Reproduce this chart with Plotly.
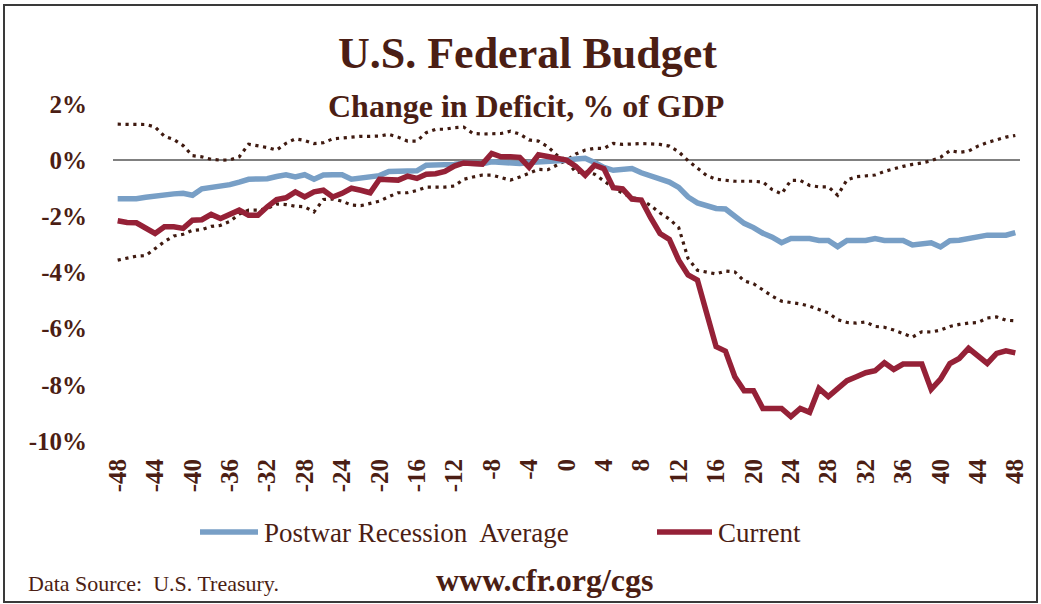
import plotly.graph_objects as go

months = list(range(-48, 49))
tick_vals = list(range(-48, 49, 4))
tick_text = [str(v) for v in tick_vals]
y_tick_vals = [2, 0, -2, -4, -6, -8, -10]
y_tick_text = ["2%", "0%", "-2%", "-4%", "-6%", "-8%", "-10%"]
legend_names = ["Postwar Recession\u00a0 Average", "Current"]

postwar_avg = [
    -1.37, -1.37, -1.37, -1.32, -1.27, -1.22, -1.20, -1.18, -1.25, -1.02,
    -0.97, -0.93, -0.87, -0.78, -0.68, -0.67, -0.66, -0.58, -0.52, -0.60,
    -0.52, -0.68, -0.53, -0.52, -0.52, -0.68, -0.62, -0.57, -0.55, -0.40,
    -0.38, -0.38, -0.38, -0.18, -0.17, -0.17, -0.15, -0.10, -0.11, -0.13,
    -0.06, -0.07, -0.08, -0.12, -0.08, -0.07, -0.06, -0.04, 0.00, 0.04,
    0.07, -0.08, -0.26, -0.36, -0.34, -0.30, -0.45, -0.55, -0.68, -0.78,
    -0.97, -1.31, -1.52, -1.62, -1.72, -1.74, -2.00, -2.25, -2.40, -2.60,
    -2.74, -2.94, -2.79, -2.79, -2.79, -2.86, -2.86, -3.08, -2.86, -2.86,
    -2.86, -2.79, -2.86, -2.86, -2.86, -3.02, -2.96, -2.94, -3.09, -2.87,
    -2.85, -2.80, -2.73, -2.67, -2.67, -2.67, -2.58,
]

current = [
    -2.16, -2.22, -2.23, -2.43, -2.61, -2.37, -2.37, -2.43, -2.14, -2.12,
    -1.93, -2.08, -1.93, -1.78, -1.96, -1.96, -1.66, -1.40, -1.34, -1.13,
    -1.31, -1.13, -1.07, -1.31, -1.18, -1.00, -1.07, -1.16, -0.68, -0.71,
    -0.71, -0.57, -0.65, -0.50, -0.48, -0.40, -0.21, -0.10, -0.10, -0.14,
    0.24, 0.12, 0.12, 0.10, -0.25, 0.19, 0.13, 0.05, 0.00, -0.22,
    -0.54, -0.18, -0.30, -0.98, -1.02, -1.39, -1.42, -2.05, -2.61, -2.82,
    -3.56, -4.09, -4.27, -5.46, -6.64, -6.80, -7.71, -8.21, -8.21, -8.84,
    -8.84, -8.84, -9.13, -8.84, -8.98, -8.13, -8.42, -8.13, -7.85, -7.71,
    -7.57, -7.50, -7.21, -7.45, -7.26, -7.26, -7.26, -8.16, -7.80, -7.24,
    -7.06, -6.70, -6.98, -7.24, -6.88, -6.79, -6.86,
]

upper_band = [
    1.28, 1.28, 1.28, 1.27, 1.18, 0.85, 0.74, 0.52, 0.16, 0.12,
    0.03, 0.00, 0.01, 0.12, 0.57, 0.51, 0.45, 0.36, 0.60, 0.76,
    0.70, 0.59, 0.62, 0.76, 0.79, 0.80, 0.85, 0.85, 0.86, 0.92,
    0.82, 0.68, 0.68, 0.98, 1.10, 1.10, 1.16, 1.18, 0.95, 0.93,
    0.93, 0.95, 1.03, 0.93, 0.72, 0.68, 0.48, 0.17, 0.00, 0.22,
    0.36, 0.42, 0.42, 0.60, 0.56, 0.58, 0.59, 0.58, 0.56, 0.50,
    0.30, -0.02, -0.28, -0.55, -0.68, -0.72, -0.75, -0.75, -0.75, -0.78,
    -1.05, -1.20, -0.72, -0.72, -0.90, -0.95, -0.95, -1.25, -0.70, -0.59,
    -0.55, -0.53, -0.40, -0.30, -0.22, -0.15, -0.10, -0.02, 0.10, 0.34,
    0.28, 0.32, 0.50, 0.63, 0.72, 0.82, 0.88,
]

lower_band = [
    -3.56, -3.50, -3.42, -3.40, -3.15, -2.90, -2.70, -2.64, -2.50, -2.47,
    -2.36, -2.32, -2.18, -1.92, -1.78, -1.78, -1.72, -1.56, -1.58, -1.64,
    -1.66, -1.84, -1.40, -1.38, -1.46, -1.60, -1.62, -1.55, -1.46, -1.30,
    -1.16, -1.16, -1.08, -0.96, -0.95, -0.96, -0.92, -0.68, -0.60, -0.53,
    -0.53, -0.62, -0.71, -0.60, -0.45, -0.33, -0.34, -0.18, 0.00, -0.44,
    -0.40, -0.50, -0.75, -0.98, -1.18, -1.33, -1.40, -1.62, -1.88, -2.10,
    -2.40, -3.50, -3.92, -3.98, -4.05, -3.95, -3.98, -4.30, -4.40, -4.62,
    -4.84, -5.02, -5.06, -5.12, -5.20, -5.32, -5.44, -5.68, -5.78, -5.80,
    -5.76, -5.92, -5.95, -6.05, -6.17, -6.30, -6.11, -6.12, -6.05, -5.92,
    -5.85, -5.80, -5.78, -5.62, -5.58, -5.70, -5.72,
]

TEXT = "#4b1e14"
BLUE = "#789fc6"
RED = "#952137"
DOT = "#3f1a10"
SERIF = "Liberation Serif"

W, H = 1041, 604
ML, MR, MT, MB = 113, 21, 104, 163
PW, PH = W - ML - MR, H - MT - MB


def px(x):
    return (x - ML) / PW


def py(y):
    return (H - MB - y) / PH


fig = go.Figure()
fig.add_trace(go.Scatter(x=months, y=upper_band, mode="lines", showlegend=False,
                         line=dict(color=DOT, width=3.2, dash="3.2px,4.6px"), hoverinfo="skip"))
fig.add_trace(go.Scatter(x=months, y=lower_band, mode="lines", showlegend=False,
                         line=dict(color=DOT, width=3.2, dash="3.2px,4.6px"), hoverinfo="skip"))
fig.add_trace(go.Scatter(x=months, y=postwar_avg, mode="lines", name=legend_names[0],
                         showlegend=False, line=dict(color=BLUE, width=5.5)))
fig.add_trace(go.Scatter(x=months, y=current, mode="lines", name=legend_names[1],
                         showlegend=False, line=dict(color=RED, width=5.5)))

fig.update_layout(
    width=W, height=H,
    margin=dict(l=ML, r=MR, t=MT, b=MB),
    paper_bgcolor="white", plot_bgcolor="white",
    font=dict(family=SERIF, color=TEXT),
    showlegend=False,
    xaxis=dict(range=[-48.5, 48.5], tickmode="array", tickvals=tick_vals, ticktext=tick_text,
               tickangle=-90, showgrid=False, zeroline=False, showline=False, ticks="",
               tickfont=dict(family=SERIF, size=25, color=TEXT, weight="bold"),
               ticklabelstandoff=12),
    yaxis=dict(range=[-10, 2], tickmode="array", tickvals=y_tick_vals, ticktext=y_tick_text,
               showgrid=False, zeroline=True, zerolinecolor="#808080", zerolinewidth=1.5,
               showline=False, ticks="",
               tickfont=dict(family=SERIF, size=25, color=TEXT, weight="bold"),
               ticklabelstandoff=25),
)

# legend drawn by hand (long line keys, spacing as in the original)
for (x0, x1, tx), color, name in zip([(200, 258, 262), (657, 712, 716)], [BLUE, RED], legend_names):
    fig.add_shape(type="line", xref="paper", yref="paper", x0=px(x0), x1=px(x1),
                  y0=py(532), y1=py(532), line=dict(color=color, width=5.5))
    fig.add_annotation(text=name, xref="paper", yref="paper", x=px(tx), y=py(533),
                       xanchor="left", yanchor="middle", showarrow=False,
                       font=dict(family=SERIF, size=27, color=TEXT))

fig.add_annotation(text="U.S. Federal Budget", xref="paper", yref="paper",
                   x=px(527), y=py(53), xanchor="center", yanchor="middle", showarrow=False,
                   font=dict(family=SERIF, size=44, color=TEXT, weight="bold"))
fig.add_annotation(text="Change in Deficit, % of GDP", xref="paper", yref="paper",
                   x=px(526), y=py(106), xanchor="center", yanchor="middle", showarrow=False,
                   font=dict(family=SERIF, size=32, color=TEXT, weight="bold"))
fig.add_annotation(text="Data Source:\u00a0 U.S. Treasury.", xref="paper", yref="paper",
                   x=px(26), y=py(583), xanchor="left", yanchor="middle", showarrow=False,
                   font=dict(family=SERIF, size=22, color=TEXT))
fig.add_annotation(text="www.cfr.org/cgs", xref="paper", yref="paper",
                   x=px(544), y=py(580), xanchor="center", yanchor="middle", showarrow=False,
                   font=dict(family=SERIF, size=32, color=TEXT, weight="bold"))

fig.add_shape(type="rect", xref="paper", yref="paper",
              x0=px(4), x1=px(1037), y0=py(602), y1=py(5),
              line=dict(color="#3a3a3a", width=2), fillcolor="rgba(0,0,0,0)", layer="below")

fig.write_html("out.html", config={"displayModeBar": False},
               post_script="document.body.style.margin='0px';document.body.style.padding='0px';")
